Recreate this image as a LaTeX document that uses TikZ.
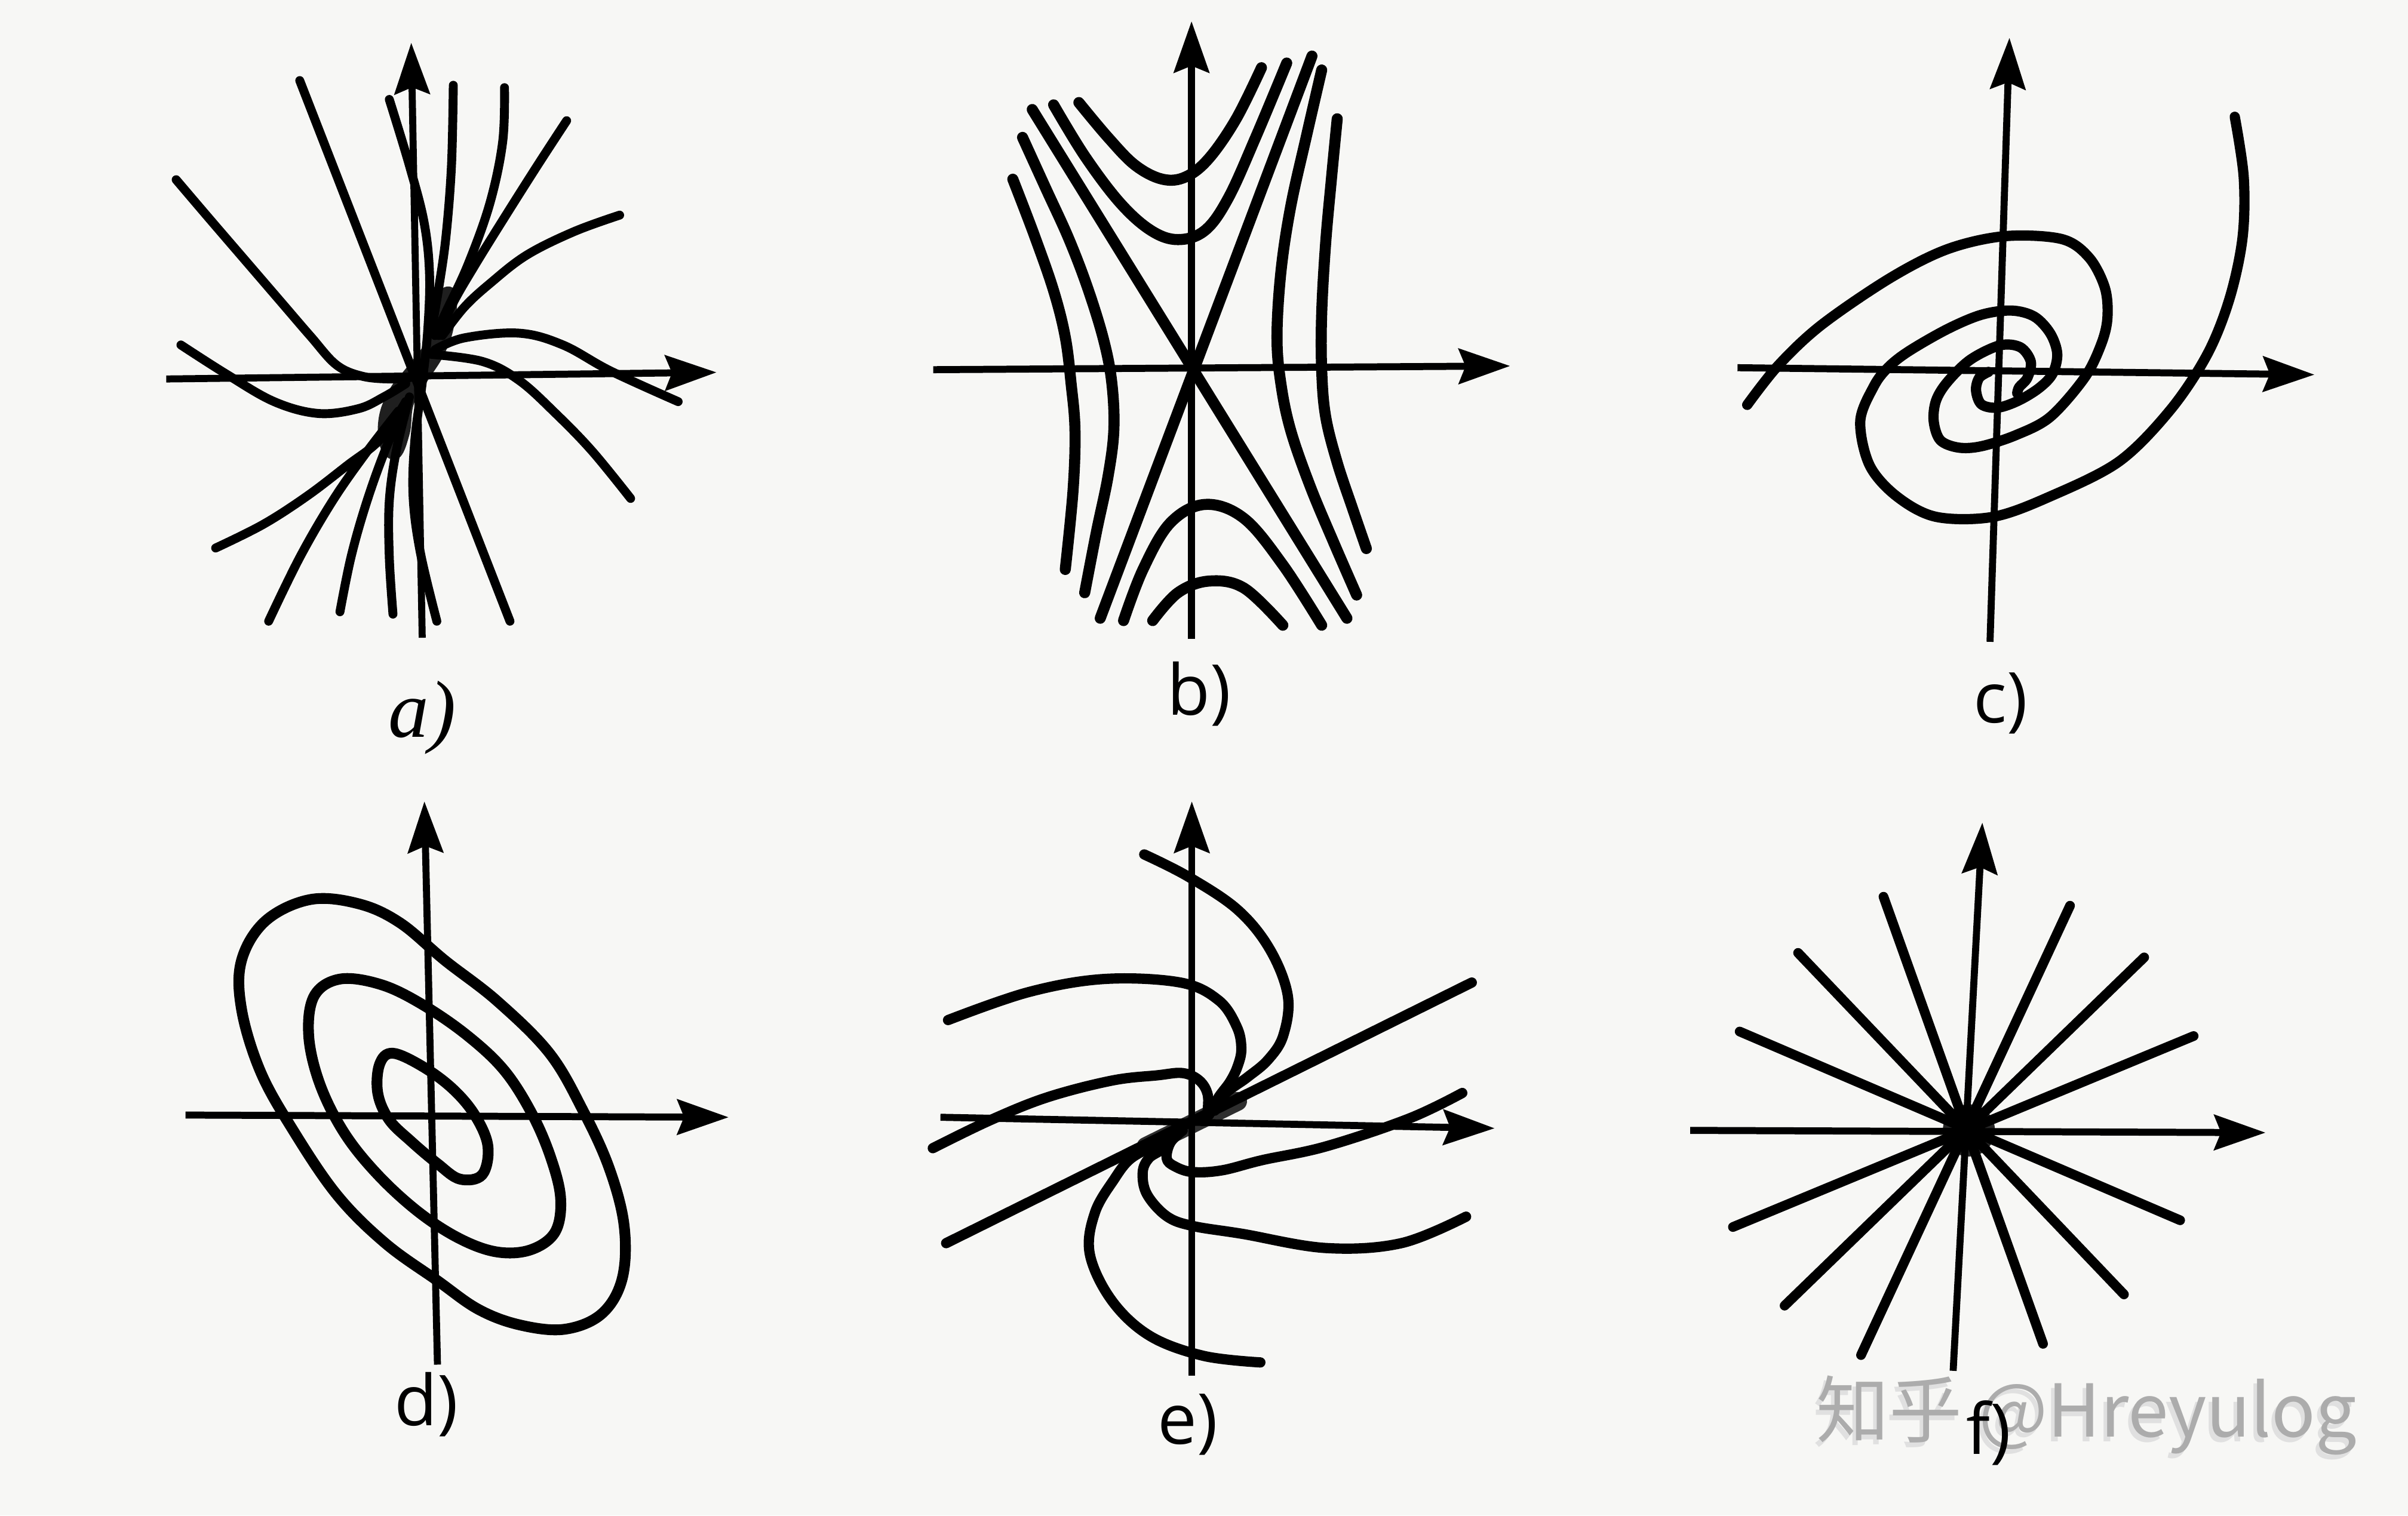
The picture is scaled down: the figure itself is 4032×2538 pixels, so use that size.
\documentclass[tikz,border=0pt]{standalone}
\usepackage{fontspec}
\newfontfamily\labfont{Open Sans}
\newfontfamily\serifit{Liberation Serif}
\newfontfamily\cjkfont{Noto Sans CJK SC}
\usetikzlibrary{arrows.meta}
\definecolor{paper}{RGB}{247,247,245}
\definecolor{wmgray}{RGB}{172,172,172}
\definecolor{wmshadow}{RGB}{224,224,224}
\begin{document}
\begin{tikzpicture}[x=0.0077778cm, y=-0.0077778cm,
  axisline/.style={line width=2.6pt, -{Stealth[length=19pt,width=13pt,inset=2.5pt]}},
  traj/.style={line width=3.8pt, line cap=round, line join=round},
  lab/.style={font=\labfont\fontsize{26}{30}\selectfont, inner sep=0pt}]
\fill[paper] (0,0) rectangle (4032,2538);
\useasboundingbox (0,0) rectangle (4032,2538);

% ---------------- panel a ----------------
\begin{scope}[shift={(257,40)}, xscale=0.6122, yscale=0.7908]
\fill[black!88] plot[smooth cycle, tension=0.7] coordinates {(625,905) (615,840) (645,775) (695,725) (745,670) (755,605) (790,560) (828,570) (822,640) (795,700) (748,758) (712,805) (700,870) (670,920)};
\draw[axisline] (35,752) -- (1540,738);
\draw[axisline] (735,1300) -- (705,40);
\begin{scope}[traj, line width=3.3pt]
\draw (400,120) -- (975,1265);
\draw plot[smooth, tension=0.6] coordinates {(62,330) (150,410) (250,500) (350,590) (430,662) (500,722) (570,746) (650,752) (710,748)};
\draw plot[smooth, tension=0.6] coordinates {(75,680) (200,742) (330,800) (450,825) (560,815) (630,790) (690,762)};
\draw plot[smooth, tension=0.6] coordinates {(760,700) (900,715) (1000,755) (1100,825) (1200,905) (1305,1005)};
\draw plot[smooth, tension=0.6] coordinates {(770,690) (850,665) (1000,655) (1120,680) (1250,735) (1435,800)};
\draw plot[smooth, tension=0.6] coordinates {(1275,405) (1150,440) (1020,490) (920,550) (850,600) (790,660)};
\draw plot[smooth, tension=0.6] coordinates {(1130,205) (1050,300) (960,410) (880,510) (820,590) (780,660)};
\draw plot[smooth, tension=0.6] coordinates {(960,135) (955,250) (920,380) (860,510) (800,610) (770,660)};
\draw plot[smooth, tension=0.6] coordinates {(820,130) (815,300) (800,450) (780,560) (760,650)};
\draw plot[smooth, tension=0.6] coordinates {(645,160) (700,300) (740,420) (755,530) (750,650) (735,760) (715,880) (710,1000) (730,1120) (775,1265)};
\draw plot[smooth, tension=0.6] coordinates {(170,1110) (300,1060) (420,1000) (530,935) (620,880) (690,800)};
\draw plot[smooth, tension=0.6] coordinates {(315,1265) (400,1130) (490,1010) (580,910) (670,820)};
\draw plot[smooth, tension=0.6] coordinates {(510,1245) (540,1130) (580,1020) (630,910) (690,800)};
\draw plot[smooth, tension=0.6] coordinates {(655,1250) (645,1130) (645,1010) (665,900) (700,790)};
\end{scope}
\end{scope}

% ---------------- panel b ----------------
\begin{scope}[shift={(1530,20)}, xscale=0.6505, yscale=0.7781]
\draw[axisline] (50,770) -- (1535,762);
\draw[axisline] (715,1350) -- (715,20);
\begin{scope}[traj, line width=4.1pt]
\draw (305,210) -- (1115,1305);
\draw (1025,95) -- (480,1305);
\draw plot[smooth, tension=0.6] coordinates {(280,270) (340,380) (400,490) (450,600) (490,710) (510,800) (515,900) (500,1000) (470,1120) (440,1250)};
\draw plot[smooth, tension=0.6] coordinates {(255,360) (310,480) (360,600) (390,700) (405,800) (415,900) (410,1030) (390,1200)};
\draw plot[smooth, tension=0.6] coordinates {(1050,125) (1010,270) (970,420) (945,560) (935,700) (945,800) (970,900) (1020,1020) (1080,1140) (1140,1255)};
\draw plot[smooth, tension=0.6] coordinates {(1090,230) (1075,360) (1060,500) (1050,650) (1050,770) (1060,870) (1090,970) (1130,1070) (1165,1155)};
\draw plot[smooth, tension=0.6] coordinates {(425,195) (500,270) (570,330) (640,360) (700,355) (760,315) (830,230) (895,120)};
\draw plot[smooth, tension=0.6] coordinates {(360,200) (440,310) (530,410) (610,470) (680,490) (750,470) (810,400) (880,270) (960,110)};
\draw plot[smooth, tension=0.6] coordinates {(540,1310) (590,1200) (660,1100) (750,1060) (850,1090) (950,1190) (1050,1320)};
\draw plot[smooth, tension=0.6] coordinates {(615,1310) (680,1250) (760,1225) (850,1240) (950,1320)};
\end{scope}
\end{scope}

% ---------------- panel c ----------------
\begin{scope}[shift={(2880,40)}, xscale=0.6505, yscale=0.7781]
\draw[axisline] (45,740) -- (1530,755);
\draw[axisline] (695,1330) -- (745,30);
\begin{scope}[traj, line width=3.8pt]
\draw plot[smooth, tension=0.55] coordinates {(70,820) (150,735) (261,648) (438,547) (585,485) (732,457) (879,463) (950,503) (991,569) (997,635) (980,692) (938,762) (850,846) (762,885) (673,909) (614,912) (567,896) (550,855) (556,811) (585,771) (644,723) (720,692) (773,696) (800,727) (791,762) (770,782) (765,795)};
\draw plot[smooth, tension=0.55] coordinates {(1325,200) (1348,330) (1345,460) (1312,590) (1255,710) (1160,830) (1027,942) (850,1017) (703,1061) (556,1061) (455,1017) (385,950) (361,855) (396,780) (432,740) (485,705) (585,657) (673,626) (750,617) (809,630) (850,666) (868,710) (856,753) (821,784) (768,811) (715,826) (673,819) (659,789) (667,762) (691,749)};
\end{scope}
\end{scope}

% ---------------- panel d ----------------
\begin{scope}[shift={(270,1320)}, xscale=0.625, yscale=0.7398]
\draw[axisline] (65,740) -- (1520,745);
\draw[axisline] (740,1305) -- (705,30);
\begin{scope}[traj, line width=4pt]
\draw plot[smooth cycle, tension=0.6] coordinates {(400,252) (530,262) (640,305) (760,390) (900,482) (1040,600) (1130,730) (1200,860) (1240,990) (1235,1110) (1180,1190) (1080,1225) (960,1215) (850,1180) (740,1115) (600,1030) (470,920) (350,770) (265,640) (215,500) (215,390) (280,300)};
\draw plot[smooth cycle, tension=0.6] coordinates {(480,432) (590,445) (700,490) (820,560) (920,640) (995,740) (1045,840) (1070,930) (1055,1005) (990,1045) (900,1050) (800,1020) (690,960) (580,875) (490,780) (425,670) (395,560) (410,470)};
\draw plot[smooth cycle, tension=0.6] coordinates {(620,600) (700,630) (780,680) (840,740) (875,810) (860,875) (800,885) (740,850) (670,800) (610,750) (580,690) (585,625)};
\end{scope}
\end{scope}

% ---------------- panel e ----------------
\begin{scope}[shift={(1530,1320)}, xscale=0.6378, yscale=0.7398]
\draw[line width=7pt, black!82, line cap=round] (610,811) -- (850,709);
\draw[axisline] (70,745) -- (1525,770);
\draw[axisline] (730,1330) -- (730,30);
\begin{scope}[traj, line width=3.8pt]
\draw (85,1030) -- (1465,440);
\draw plot[smooth, tension=0.6] coordinates {(605,150) (720,200) (850,275) (935,365) (982,470) (970,560) (930,615) (875,655) (820,690) (790,730)};
\draw plot[smooth, tension=0.6] coordinates {(90,525) (300,462) (500,432) (700,440) (800,480) (848,540) (860,590) (850,630) (830,665) (800,700) (775,740)};
\draw plot[smooth, tension=0.6] coordinates {(50,815) (200,752) (350,700) (520,662) (640,650) (706,645) (750,662) (772,695) (770,742)};
\draw plot[smooth, tension=0.6] coordinates {(910,1300) (760,1285) (620,1240) (520,1160) (462,1054) (476,960) (528,883) (565,842) (612,816) (660,790)};
\draw plot[smooth, tension=0.6] coordinates {(1450,970) (1280,1030) (1082,1041) (863,1009) (732,991) (664,969) (612,919) (601,870) (617,838) (654,816) (690,780)};
\draw plot[smooth, tension=0.6] coordinates {(1440,690) (1300,748) (1082,811) (915,842) (810,865) (732,869) (685,856) (664,838) (674,802) (706,775)};
\end{scope}
\end{scope}

% ---------------- panel f ----------------
\begin{scope}[shift={(2800,1340)}, xscale=0.7526, yscale=0.7526]
\fill[black!85] (660,735) circle (58);
\draw[axisline] (40,735) -- (1320,740);
\draw[axisline] (625,1270) -- (690,50);
\begin{scope}[traj, line width=3.6pt]
\draw (470,215) -- (825,1210);
\draw (885,235) -- (420,1235);
\draw (280,340) -- (1005,1100);
\draw (1050,350) -- (250,1125);
\draw (150,515) -- (1130,935);
\draw (1160,525) -- (135,950);
\end{scope}
\end{scope}

% ---------------- watermark ----------------
\node[anchor=base west, inner sep=0pt, text=wmshadow, font=\cjkfont\fontsize{27}{30}\selectfont] (wmshadow) at (3035,2414) {知乎 @Hreyulog};
\node[anchor=base west, inner sep=0pt, text=wmgray, font=\cjkfont\fontsize{27}{30}\selectfont] (wm) at (3041,2406) {知乎 @Hreyulog};

% ---------------- labels ----------------
\node[inner sep=0pt, font=\serifit\itshape\fontsize{30}{34}\selectfont] (la) at (707,1202) {a)};
\node[lab] (lb) at (2008,1162) {b)};
\node[lab] (lc) at (3350,1178) {c)};
\node[lab] (ld) at (714,2352) {d)};
\node[lab] (le) at (1989,2386) {e)};
\node[lab] (lf) at (3330,2400) {f)};
\end{tikzpicture}
\end{document}
